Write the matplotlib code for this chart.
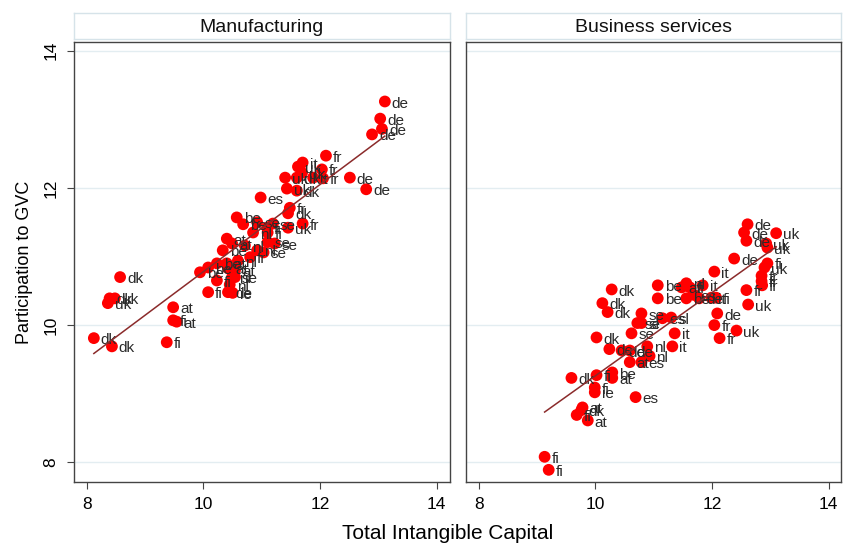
import numpy as np
import matplotlib
matplotlib.use('Agg')
import matplotlib.pyplot as plt

plt.rcParams['font.family'] = ['Liberation Sans Narrow', 'Liberation Sans', 'DejaVu Sans']

# Manufacturing: total intangible capital, participation to GVC, country
manuf_x = [13.11, 13.03, 13.06, 12.89, 12.10, 11.70, 11.62, 11.69, 12.03, 11.88,
           12.05, 11.40, 11.60, 12.51, 12.79, 11.43, 11.60, 10.98, 11.48, 11.45,
           11.70, 11.45, 10.57, 10.68, 10.92, 11.19, 11.09, 10.85, 11.10, 10.40,
           10.49, 10.71, 10.33, 11.10, 11.22, 10.92, 11.03, 10.80, 10.59, 10.40,
           10.23, 10.08, 9.94, 10.42, 10.54, 10.49, 10.23, 10.54, 10.45, 10.08,
           10.42, 10.50, 8.57, 8.39, 8.48, 8.36, 9.48, 9.48, 9.54, 8.12,
           8.43, 9.37]
manuf_y = [13.26, 13.01, 12.86, 12.78, 12.47, 12.37, 12.31, 12.22, 12.27, 12.15,
           12.14, 12.15, 12.15, 12.15, 11.98, 11.99, 11.96, 11.86, 11.71, 11.63,
           11.48, 11.42, 11.57, 11.47, 11.50, 11.48, 11.42, 11.35, 11.35, 11.26,
           11.19, 11.16, 11.09, 11.21, 11.19, 11.09, 11.06, 10.99, 10.94, 10.90,
           10.90, 10.84, 10.77, 10.83, 10.80, 10.70, 10.65, 10.70, 10.59, 10.48,
           10.48, 10.47, 10.70, 10.39, 10.39, 10.32, 10.26, 10.07, 10.05, 9.81,
           9.69, 9.75]
manuf_lab = ['de', 'de', 'de', 'de', 'fr', 'it', 'uk', 'uk', 'fr', 'it',
             'fr', 'uk', 'uk', 'de', 'de', 'uk', 'dk', 'es', 'fr', 'dk',
             'fr', 'uk', 'be', 'be', 'se', 'se', 'fi', 'nl', 'fi', 'at',
             'at', 'nl', 'be', 'se', 'se', 'nl', 'se', 'fr', 'nl', 'at',
             'be', 'be', 'be', 'at', 'at', 'nl', 'fi', 'se', 'nl', 'fi',
             'de', 'ie', 'dk', 'dk', 'uk', 'uk', 'at', 'fi', 'at', 'dk',
             'dk', 'fi']

# Business services
serv_x = [12.61, 12.55, 12.59, 13.10, 12.93, 12.95, 12.38, 12.04, 12.95, 12.90,
          12.85, 12.85, 12.86, 12.59, 12.62, 10.28, 11.07, 11.56, 11.62, 11.48,
          11.84, 11.07, 11.56, 11.69, 11.78, 11.99, 12.07, 10.12, 10.21, 12.09,
          12.04, 12.13, 12.42, 10.79, 10.72, 10.79, 11.15, 11.30, 10.02, 10.62,
          11.36, 10.89, 11.32, 10.24, 10.45, 10.59, 10.93, 10.59, 10.79, 10.29,
          9.59, 10.02, 10.29, 9.99, 9.99, 10.69, 9.78, 9.76, 9.68, 9.87,
          9.13, 9.20]
serv_y = [11.47, 11.35, 11.23, 11.34, 11.19, 11.13, 10.97, 10.78, 10.90, 10.84,
          10.72, 10.64, 10.58, 10.51, 10.30, 10.52, 10.58, 10.61, 10.55, 10.55,
          10.58, 10.39, 10.39, 10.44, 10.39, 10.40, 10.40, 10.32, 10.19, 10.17,
          10.00, 9.81, 9.92, 10.17, 10.03, 10.03, 10.10, 10.11, 9.82, 9.88,
          9.88, 9.69, 9.69, 9.65, 9.63, 9.63, 9.55, 9.46, 9.46, 9.31,
          9.23, 9.27, 9.23, 9.09, 9.02, 8.95, 8.80, 8.76, 8.69, 8.61,
          8.08, 7.89]
serv_lab = ['de', 'de', 'de', 'uk', 'uk', 'uk', 'de', 'it', 'fi', 'uk',
            'fr', 'fr', 'fr', 'fr', 'uk', 'dk', 'be', 'nl', 'fi', 'at',
            'it', 'be', 'be', 'es', 'de', 'it', 'fi', 'dk', 'dk', 'de',
            'fr', 'fr', 'uk', 'se', 'se', 'sl', 'es', 'sl', 'dk', 'se',
            'it', 'nl', 'it', 'de', 'de', 'de', 'nl', 'at', 'es', 'be',
            'dk', 'fi', 'at', 'fi', 'ie', 'es', 'at', 'dk', 'fi', 'at',
            'fi', 'fi']

panels = [('Manufacturing', manuf_x, manuf_y, manuf_lab),
          ('Business services', serv_x, serv_y, serv_lab)]


def main():
    fig = plt.figure(figsize=(8.44, 5.43), dpi=100)
    lefts = [0.0877, 0.552]
    width = 0.445
    bottom, height = 0.112, 0.811

    for i, (title, xs, ys, labs) in enumerate(panels):
        ax = fig.add_axes([lefts[i], bottom, width, height])
        xs = np.array(xs)
        ys = np.array(ys)

        ax.scatter(xs, ys, s=72, color='#ff0000', edgecolors='none', zorder=3)
        for x, y, lab in zip(xs, ys, labs):
            ax.annotate(lab, (x, y), xytext=(5, -1.5), textcoords='offset points',
                        fontsize=11, color='#2a2a2a', va='center', ha='left',
                        zorder=4)

        # linear fit
        b, a = np.polyfit(xs, ys, 1)
        xx = np.array([xs.min(), xs.max()])
        ax.plot(xx, a + b * xx, color='#8b2b2b', linewidth=1.1, zorder=5)

        ax.set_xlim(7.78, 14.22)
        ax.set_ylim(7.71, 14.13)
        ax.set_xticks([8, 10, 12, 14])
        ax.set_yticks([8, 10, 12, 14])
        ax.grid(axis='y', color='#e3edf1', linewidth=1.0)
        ax.set_axisbelow(True)
        for sp in ax.spines.values():
            sp.set_color('#444444')
            sp.set_linewidth(1.0)
        ax.tick_params(axis='x', labelsize=12.5, length=5, color='#444444',
                       pad=6)
        if i == 0:
            ax.tick_params(axis='y', labelsize=12.5, length=5,
                           color='#444444', labelrotation=90, pad=6)
            for t in ax.get_yticklabels():
                t.set_va('center')
            ax.set_ylabel('Participation to GVC', fontsize=13, labelpad=8)
        else:
            ax.tick_params(axis='y', left=False, labelleft=False)

        # panel header box
        hdr = fig.add_axes([lefts[i], 0.928, width, 0.048])
        hdr.set_xticks([])
        hdr.set_yticks([])
        for sp in hdr.spines.values():
            sp.set_color('#d6e3e9')
            sp.set_linewidth(1.0)
        hdr.text(0.5, 0.45, title, ha='center', va='center', fontsize=14,
                 color='#111111', transform=hdr.transAxes)

    fig.text(0.53, 0.018, 'Total Intangible Capital', ha='center',
             va='center', fontsize=15)

    fig.savefig('out.png', dpi=100)


if __name__ == "__main__":
    main()
